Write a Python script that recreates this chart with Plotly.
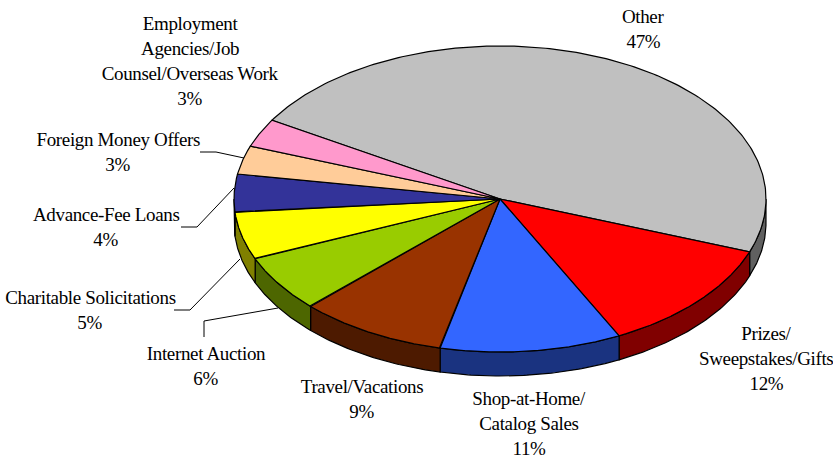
import numpy as np
import plotly.graph_objects as go

# Data, clockwise from the start of "Other"
categories = ["Other", "Prizes/Sweepstakes/Gifts", "Shop-at-Home/Catalog Sales", "Travel/Vacations",
              "Internet Auction", "Charitable Solicitations", "Advance-Fee Loans",
              "Foreign Money Offers", "Employment Agencies/Job Counsel/Overseas Work"]
values = [47, 12, 11, 9, 6, 5, 4, 3, 3]
top_colors = ["#C0C0C0", "#FF0000", "#3366FF", "#993300", "#99CC00", "#FFFF00", "#333399", "#FFCC99", "#FF99CC"]
side_colors = ["#606060", "#800000", "#1A3380", "#4D1A00", "#4D6600", "#808000", "#1A1A4D", "#806650", "#804D66"]

# Label text lines with centre-x and middle y of first line
label_lines = [
    (["Other", "47%"], 643, 16.5),
    (["Prizes/", "Sweepstakes/Gifts", "12%"], 766, 333.5),
    (["Shop-at-Home/", "Catalog Sales", "11%"], 529, 398),
    (["Travel/Vacations", "9%"], 362, 386.5),
    (["Internet Auction", "6%"], 206, 353.5),
    (["Charitable Solicitations", "5%"], 90, 297.5),
    (["Advance-Fee Loans", "4%"], 106, 214.5),
    (["Foreign Money Offers", "3%"], 118, 139.5),
    (["Employment", "Agencies/Job", "Counsel/Overseas Work", "3%"], 190, 23.5),
]
leaders = [
    [(200, 152), (216, 152), (244, 158)],
    [(181, 227), (197, 227), (234, 188)],
    [(174, 310), (190, 310), (240, 259)],
    [(204, 337), (204, 321), (278, 308)],
]

CX, CY, RX, RY, DEPTH = 500, 199, 266, 153, 24
START_DEG = -59
LINE_H = 25

def px(t):
    return CX + RX * np.sin(np.radians(t))

def py(t):
    return CY - RY * np.cos(np.radians(t))

fig = go.Figure()
edges = START_DEG + np.concatenate([[0], np.cumsum(values)]) * 360 / sum(values)

# side walls (front half only)
for i in range(len(values)):
    a, b = edges[i], edges[i + 1]
    for lo, hi in ((a, b), (a - 360, b - 360), (a + 360, b + 360)):
        lo2, hi2 = max(lo, 90), min(hi, 270)
        if hi2 > lo2:
            t = np.linspace(lo2, hi2, 60)
            x = np.concatenate([px(t), px(t[::-1])])
            y = np.concatenate([py(t), py(t[::-1]) + DEPTH])
            fig.add_trace(go.Scatter(x=np.append(x, x[0]), y=np.append(y, y[0]), mode="lines", fill="toself",
                                     fillcolor=side_colors[i], line=dict(color="black", width=1.2),
                                     hoverinfo="skip", showlegend=False))

# top faces
for i in range(len(values)):
    t = np.linspace(edges[i], edges[i + 1], 200)
    x = np.concatenate([[CX], px(t), [CX]])
    y = np.concatenate([[CY], py(t), [CY]])
    fig.add_trace(go.Scatter(x=x, y=y, mode="lines", fill="toself", fillcolor=top_colors[i],
                             line=dict(color="black", width=1.2), name=categories[i],
                             hovertemplate="%{fullData.name}: " + str(values[i]) + "%<extra></extra>",
                             showlegend=False))

# leader lines
for pts in leaders:
    fig.add_trace(go.Scatter(x=[p[0] for p in pts], y=[p[1] for p in pts], mode="lines",
                             line=dict(color="black", width=1), hoverinfo="skip", showlegend=False))

annotations = []
for lines, cx, y0 in label_lines:
    for j, s in enumerate(lines):
        annotations.append(dict(x=cx, y=y0 + j * LINE_H, text=s, showarrow=False, xanchor="center", yanchor="middle",
                                font=dict(family="Liberation Serif", size=19, color="black")))

fig.update_layout(
    width=833, height=457, margin=dict(l=0, r=0, t=0, b=0), autosize=False,
    paper_bgcolor="white", plot_bgcolor="white", annotations=annotations,
    xaxis=dict(range=[0, 833], visible=False, fixedrange=True),
    yaxis=dict(range=[457, 0], visible=False, fixedrange=True),
)
fig.write_html("out.html", config={"displayModeBar": False},
               post_script="document.body.style.margin='0';document.querySelectorAll('.annotation text').forEach(t=>t.style.letterSpacing='-0.35px');")
